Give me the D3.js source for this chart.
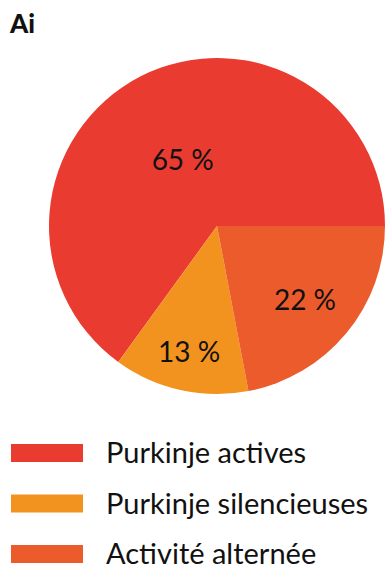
<!DOCTYPE html>
<html>
<head>
<meta charset="utf-8">
<script src="https://cdn.jsdelivr.net/npm/d3@7/dist/d3.min.js"></script>
<style>
  html, body { margin: 0; padding: 0; background: #fff; }
  svg { display: block; }
  text { font-family: Lato, "Open Sans", sans-serif; fill: #111; }
</style>
</head>
<body>
<svg id="chart" width="387" height="574"></svg>
<script>
// Proportions of Purkinje cell firing patterns
const categories = ["Purkinje actives", "Purkinje silencieuses", "Activité alternée"];
const values = [65, 13, 22];
const colors = ["#ea3b31", "#f3931f", "#ec5b2b"];
const panelLabel = "Ai";

const svg = d3.select("#chart");
const cx = 217, cy = 226, radius = 168;

svg.append("text")
  .attr("x", 10).attr("y", 33)
  .attr("font-size", 26).attr("font-weight", 900)
  .text(panelLabel);

const data = categories.map((c, i) => ({ name: c, value: values[i], color: colors[i] }));

// slices run counter-clockwise from 3 o'clock
const pie = d3.pie().sort(null).value(d => d.value)
  .startAngle(Math.PI * 2.5).endAngle(Math.PI * 0.5);
const arc = d3.arc().innerRadius(0).outerRadius(radius);

const g = svg.append("g").attr("transform", `translate(${cx},${cy})`);
const arcs = pie(data);

g.selectAll("path").data(arcs).join("path")
  .attr("d", arc)
  .attr("fill", d => d.data.color);

// percentage labels placed at a fraction of the radius along each slice's mid-angle
const labelRadius = [0.45, 0.76, 0.68];
g.selectAll("text.pct").data(arcs).join("text")
  .attr("class", "pct")
  .attr("font-size", 28)
  .attr("text-anchor", "middle")
  .attr("dominant-baseline", "central")
  .attr("transform", (d, i) => {
    const a = (d.startAngle + d.endAngle) / 2;
    const r = radius * labelRadius[i];
    return `translate(${Math.sin(a) * r},${-Math.cos(a) * r})`;
  })
  .text(d => d.data.value + " %");

// legend
const legend = svg.append("g");
const rowY = d3.scalePoint().domain(categories).range([453, 554]);
const row = legend.selectAll("g").data(data).join("g")
  .attr("transform", d => `translate(0,${rowY(d.name)})`);
row.append("rect")
  .attr("x", 11).attr("y", -9).attr("width", 72).attr("height", 18)
  .attr("fill", d => d.color);
row.append("text")
  .attr("x", 106).attr("y", 10)
  .attr("font-size", 29)
  .text(d => d.name);
</script>
</body>
</html>
